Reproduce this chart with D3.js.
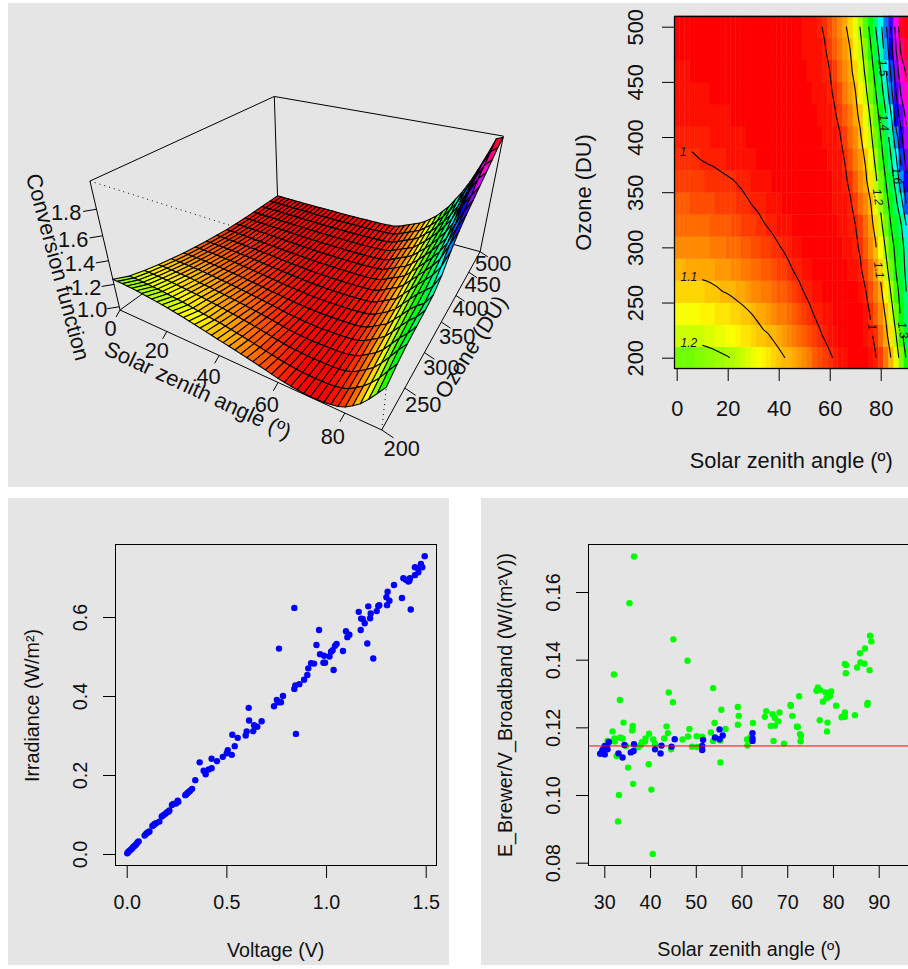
<!DOCTYPE html>
<html>
<head>
<meta charset="utf-8">
<script src="https://cdn.jsdelivr.net/npm/d3@7"></script>
<style>
body { margin: 0; background: #fff; }
text { font-family: "Liberation Sans", Arial, sans-serif; fill: #111; }
</style>
</head>
<body>
<svg id="chart"></svg>
<script>
// solar zenith angle and ozone grid of the conversion function
const sza = [0,2,4,6,8,10,12,14,16,18,20,22,24,26,28,30,32,34,36,38,40,42,44,46,48,50,52,54,56,58,60,62,64,66,68,70,72,74,76,78,80,82,84,86,88,90];
const ozone = [200,220,240,260,280,300,320,340,360,380,400,420,440,460,480,500];

// one row per ozone value, one column per sza
const conversion = [
[1.245,1.243,1.241,1.238,1.235,1.231,1.226,1.221,1.215,1.209,1.203,1.196,1.188,1.180,1.171,1.162,1.152,1.142,1.132,1.122,1.112,1.102,1.093,1.083,1.073,1.063,1.052,1.041,1.029,1.017,1.005,.996,.988,.982,.977,.975,.976,.979,.987,.998,1.020,1.058,1.100,1.162,1.232,1.305],
[1.185,1.184,1.183,1.181,1.179,1.176,1.173,1.169,1.164,1.159,1.154,1.148,1.141,1.134,1.127,1.120,1.113,1.106,1.102,1.093,1.084,1.075,1.066,1.056,1.046,1.036,1.025,1.015,1.005,.996,.989,.983,.978,.975,.974,.974,.976,.981,.992,1.010,1.045,1.083,1.134,1.197,1.275,1.350],
[1.150,1.149,1.148,1.147,1.145,1.143,1.140,1.137,1.133,1.129,1.125,1.120,1.115,1.110,1.104,1.098,1.091,1.084,1.076,1.069,1.061,1.053,1.044,1.036,1.027,1.017,1.007,.998,.991,.986,.981,.978,.975,.974,.974,.975,.978,.987,1.003,1.032,1.068,1.108,1.168,1.238,1.315,1.380],
[1.120,1.120,1.119,1.118,1.116,1.114,1.112,1.109,1.105,1.100,1.097,1.093,1.088,1.083,1.078,1.072,1.066,1.060,1.053,1.046,1.039,1.032,1.024,1.016,1.007,.999,.992,.986,.981,.978,.975,.974,.974,.975,.976,.979,.985,.997,1.022,1.056,1.089,1.138,1.204,1.273,1.330,1.400],
[1.093,1.093,1.092,1.091,1.090,1.088,1.086,1.083,1.080,1.077,1.073,1.069,1.065,1.060,1.055,1.049,1.044,1.038,1.032,1.026,1.019,1.012,1.005,.998,.992,.987,.982,.978,.976,.974,.974,.975,.976,.978,.981,.986,.995,1.016,1.045,1.078,1.115,1.176,1.239,1.303,1.350,1.420],
[1.070,1.070,1.069,1.068,1.067,1.065,1.063,1.061,1.058,1.055,1.051,1.047,1.043,1.039,1.034,1.029,1.024,1.018,1.013,1.007,1.002,.997,.992,.987,.983,.979,.977,.975,.974,.974,.975,.976,.978,.981,.985,.992,1.005,1.033,1.065,1.093,1.150,1.208,1.270,1.320,1.358,1.440],
[1.050,1.050,1.049,1.048,1.047,1.045,1.043,1.041,1.038,1.035,1.032,1.028,1.024,1.020,1.016,1.012,1.007,1.002,.998,.994,.990,.986,.983,.980,.977,.975,.974,.974,.975,.976,.977,.979,.982,.986,.992,.999,1.020,1.049,1.080,1.120,1.182,1.241,1.300,1.348,1.395,1.500],
[1.033,1.033,1.032,1.031,1.030,1.028,1.026,1.024,1.021,1.019,1.016,1.013,1.010,1.006,1.002,.998,.995,.991,.988,.985,.982,.979,.977,.975,.974,.974,.974,.975,.976,.977,.979,.981,.984,.988,.995,1.015,1.042,1.071,1.097,1.155,1.213,1.271,1.327,1.383,1.463,1.600],
[1.018,1.018,1.017,1.016,1.015,1.013,1.011,1.009,1.007,1.005,1.003,1.001,.998,.995,.992,.990,.987,.984,.982,.980,.978,.976,.975,.974,.974,.974,.975,.976,.977,.978,.980,.983,.987,.993,1.009,1.036,1.063,1.088,1.130,1.186,1.243,1.300,1.359,1.430,1.555,1.675],
[1.005,1.005,1.004,1.003,1.001,.999,.997,.996,.994,.992,.990,.988,.986,.984,.982,.981,.979,.978,.977,.975,.974,.974,.974,.974,.974,.975,.976,.977,.978,.980,.982,.985,.990,1.002,1.028,1.053,1.078,1.105,1.160,1.214,1.272,1.330,1.394,1.485,1.620,1.730],
[.996,.996,.995,.994,.993,.992,.991,.990,.988,.987,.985,.984,.982,.981,.980,.978,.977,.976,.975,.974,.974,.974,.974,.974,.975,.976,.977,.978,.980,.982,.985,.989,.997,1.021,1.045,1.070,1.093,1.135,1.185,1.240,1.297,1.362,1.430,1.560,1.680,1.775],
[.990,.990,.989,.988,.987,.986,.985,.984,.983,.982,.981,.980,.979,.978,.977,.976,.975,.975,.974,.974,.974,.974,.975,.975,.976,.977,.978,.980,.982,.985,.989,.996,1.012,1.037,1.061,1.085,1.113,1.160,1.208,1.265,1.328,1.396,1.490,1.655,1.735,1.820],
[.985,.985,.984,.983,.983,.982,.981,.980,.979,.979,.978,.977,.976,.976,.975,.975,.974,.974,.974,.974,.974,.975,.975,.976,.977,.978,.980,.982,.984,.988,.993,1.007,1.030,1.052,1.075,1.097,1.140,1.185,1.238,1.295,1.365,1.440,1.565,1.700,1.810,1.865],
[.982,.982,.981,.980,.980,.979,.978,.978,.977,.976,.976,.975,.975,.975,.974,.974,.974,.974,.974,.974,.975,.975,.976,.977,.978,.980,.981,.984,.987,.991,1.000,1.021,1.043,1.066,1.088,1.118,1.165,1.209,1.263,1.327,1.400,1.490,1.610,1.750,1.860,1.910],
[.979,.979,.978,.978,.977,.977,.976,.976,.975,.975,.975,.974,.974,.974,.974,.974,.974,.974,.975,.975,.975,.976,.977,.978,.979,.981,.983,.986,.990,.996,1.014,1.035,1.057,1.079,1.100,1.141,1.182,1.231,1.291,1.360,1.440,1.550,1.660,1.800,1.915,1.955],
[.977,.977,.976,.976,.975,.975,.975,.974,.974,.974,.974,.974,.974,.974,.974,.974,.974,.975,.975,.975,.976,.977,.978,.979,.980,.982,.985,.988,.993,1.007,1.028,1.050,1.071,1.092,1.122,1.161,1.203,1.260,1.320,1.400,1.480,1.580,1.700,1.830,1.970,1.990]
];

const contourLevels = [1,1.1,1.2,1.3,1.4,1.5,1.6,1.7,1.8,1.9];
const labelLevels = [1,1.1,1.2,1,1.1,1.2,1.3,1.4,1.5,1.6];
const labelSza = [2.5,4.8,4.8,76.6,79.3,78.9,88.7,81.3,80.9,86.4];
const labelOzone = [386.5,273,213,228,279.5,345.7,225,413,462.6,365];
const labelAngles = [0,0,0,82,82,82,82,84,84,84];

const szaTicks = [0,20,40,60,80];
const ozoneTicks = [200,250,300,350,400,450,500];
const zTicks = [1.0,1.2,1.4,1.6,1.8];

// voltage against irradiance
const voltage = [.003,.008,.013,.020,.027,.033,.040,.047,.054,.060,.090,.097,.102,.109,.114,.129,.134,.140,.147,.164,.176,.184,.192,.201,.209,.214,.227,.234,.247,.256,.259,.294,.298,.304,.311,.318,.328,.344,.366,.386,.396,.411,.426,.426,.453,.482,.502,.507,.527,.542,.530,.557,.597,.602,.614,.612,.635,.639,.655,.677,.739,.753,.761,.774,.784,.764,.841,.846,.866,.849,.890,.906,.911,.925,.940,.841,.952,.965,.970,.990,.987,.995,1.017,1.025,1.033,1.045,1.053,1.038,1.085,1.100,1.107,1.117,1.174,1.164,1.176,1.184,1.194,1.207,1.212,1.221,1.224,1.237,1.254,1.262,1.267,1.306,1.303,1.309,1.318,1.341,1.381,1.388,1.401,1.413,1.418,1.421,1.425,1.446,1.446,1.463,1.472,1.476,1.483,1.495];
const irradiance = [.002,.005,.008,.011,.014,.018,.021,.024,.029,.032,.047,.051,.053,.056,.057,.071,.073,.076,.078,.082,.095,.098,.101,.105,.107,.110,.124,.127,.128,.135,.132,.149,.151,.154,.157,.160,.165,.187,.232,.211,.202,.214,.217,.241,.235,.246,.255,.263,.251,.273,.302,.294,.300,.310,.338,.370,.311,.326,.322,.336,.374,.390,.384,.384,.400,.520,.418,.427,.430,.304,.441,.453,.470,.483,.482,.623,.529,.567,.506,.502,.484,.484,.500,.512,.516,.527,.532,.466,.514,.564,.549,.555,.567,.613,.596,.595,.584,.533,.627,.597,.609,.495,.615,.628,.630,.630,.650,.664,.641,.681,.648,.698,.694,.690,.692,.698,.619,.726,.706,.713,.726,.734,.726,.754];

// ratio against sza, two series
const greenSza = [36.5,35.5,45.1,48.2,32.1,53.8,44.1,33.4,45.0,59.2,55.6,59.4,34.2,36.2,36.1,31.8,43.6,43.9,48.6,54.1,56.5,53.3,39.8,39.0,33.4,34.0,30.7,32.2,32.3,38.2,38.9,40.7,43.1,47.1,48.3,50.2,51.4,53.8,55.4,38.0,34.7,37.4,41.1,44.6,49.2,50.3,61.2,61.3,62.5,59.2,61.9,65.1,65.4,66.8,67.3,68.3,68.0,67.3,66.4,70.7,70.8,71.1,72.1,72.3,72.8,73.0,72.9,67.0,69.3,72.6,76.4,76.7,77.2,78.4,79.6,79.3,78.6,77.8,80.7,77.1,78.8,78.7,81.9,82.6,82.6,82.0,84.8,87.6,87.5,82.6,82.9,82.8,85.3,86.0,86.9,88.0,85.9,87.0,88.1,88.4,32.7,35.2,39.7,55.4,36.3,40.3,33.2,33.0,40.6];
const greenRatio = [.1705,.1567,.1460,.1397,.1356,.1316,.1303,.1281,.1274,.1260,.1252,.1234,.1214,.1204,.1191,.1188,.1203,.1183,.1195,.1213,.1195,.1185,.1181,.1167,.1170,.1167,.1160,.1167,.1158,.1156,.1158,.1164,.1167,.1164,.1173,.1174,.1172,.1160,.1161,.1148,.1145,.1141,.1151,.1135,.1143,.1142,.1164,.1146,.1213,.1208,.1170,.1231,.1248,.1239,.1228,.1244,.1218,.1205,.1204,.1266,.1263,.1234,.1202,.1202,.1180,.1175,.1159,.1160,.1152,.1292,.1308,.1318,.1310,.1303,.1306,.1292,.1286,.1276,.1264,.1221,.1214,.1188,.1230,.1244,.1231,.1231,.1236,.1272,.1267,.1387,.1384,.1360,.1377,.1392,.1388,.1369,.1419,.1433,.1471,.1454,.1115,.1081,.1091,.1096,.1033,.1016,.1000,.0922,.0826];
const blueSza = [31.0,30.1,29.1,29.6,30.1,30.7,34.4,36.5,33.1,34.0,35.8,36.4,41.1,42.3,42.5,44.7,45.4,51.6,51.4,51.4,54.2,55.2,55.2,55.9,62.4,62.4,62.4,30.0,29.4,30.6];
const blueRatio = [.1157,.1145,.1122,.1133,.1120,.1135,.1148,.1150,.1123,.1111,.1126,.1130,.1135,.1123,.1146,.1143,.1165,.1163,.1145,.1133,.1170,.1165,.1194,.1176,.1183,.1167,.1160,.1138,.1125,.1143];
const meanRatio = .1145;

const topFont = 21.8;
const bottomFont = 19.7;

const svg = d3.select('#chart').attr('width', 908).attr('height', 969);

// grey figure regions
[[8, 3, 900, 484], [8, 498, 441, 467], [481, 498, 427, 467]].forEach(function (p) {
    svg.append('rect').attr('x', p[0]).attr('y', p[1]).attr('width', p[2]).attr('height', p[3]).attr('fill', '#e5e5e5');
});

// rainbow(100): hue goes in steps, not continuously
const colorOf = d3.scaleQuantize().domain([.97, 1.995]).range(d3.range(100).map(function (i) { return i * 3.6; }));
function rainbow(v) {
    return d3.hsl(colorOf(v), 1, .5).toString();
}

drawPersp();
drawImage();
drawVoltage();
drawRatio();

function drawPersp() {
    const g = svg.append('g');
    const uOf = d3.scaleLinear().domain([0, 90]).range([0, 1]);
    const vOf = d3.scaleLinear().domain([200, 500]).range([0, 1]);
    const wOf = d3.scaleLinear().domain([.97, 2.0]).range([0, 1]);

    // view transform fitted on the box corners
    function view(u, v, w) {
        const h = 1 - .2371 * u + .407 * v - .1384 * w;
        return [(120 + 171.2 * u + 270.5 * v - 42.5 * w) / h,
                (310 + 18 * u - 33.6 * v - 154 * w) / h,
                h];
    }
    function edge(a, b, dash) {
        const p = view(a[0], a[1], a[2]), q = view(b[0], b[1], b[2]);
        g.append('line')
            .attr('x1', p[0]).attr('y1', p[1]).attr('x2', q[0]).attr('y2', q[1])
            .attr('stroke', '#000').attr('stroke-width', 1)
            .attr('stroke-dasharray', dash ? '1 4' : null);
    }

    // hidden box edges
    edge([0,0,1], [1,0,1], true);
    edge([1,0,1], [1,1,1], true);
    edge([1,0,0], [1,0,1], true);
    edge([0,1,1], [0,0,1]);
    edge([0,1,1], [1,1,1]);
    edge([0,1,1], [0,1,0]);
    edge([0,1,0], [0,0,0]);
    edge([0,1,0], [1,1,0]);
    edge([1,1,0], [1,1,1]);

    // facets from back to front
    const line = d3.line();
    for (let j = ozone.length - 2; j >= 0; j--) {
        for (let i = 0; i < sza.length - 1; i++) {
            const cell = [[i, j], [i + 1, j], [i + 1, j + 1], [i, j + 1]];
            const pts = cell.map(function (c) {
                return view(uOf(sza[c[0]]), vOf(ozone[c[1]]), wOf(conversion[c[1]][c[0]])).slice(0, 2);
            });
            g.append('path')
                .attr('d', line(pts) + 'Z')
                .attr('fill', rainbow(d3.mean(cell, function (c) { return conversion[c[1]][c[0]]; })))
                .attr('stroke', '#000')
                .attr('stroke-width', 1.1)
                .attr('stroke-linejoin', 'round');
        }
    }

    edge([0,0,0], [1,0,0]);
    edge([1,0,0], [1,1,0]);
    edge([0,0,0], [0,0,1]);

    function tick(base, dx, dy, lx, ly, label) {
        const s = 1 / base[2];
        g.append('line').attr('x1', base[0]).attr('y1', base[1])
            .attr('x2', base[0] + dx * s).attr('y2', base[1] + dy * s)
            .attr('stroke', '#000').attr('stroke-width', 1);
        g.append('text').attr('x', base[0] + lx * s).attr('y', base[1] + ly * s)
            .attr('text-anchor', 'middle').attr('dominant-baseline', 'central')
            .attr('font-size', topFont).text(label);
    }
    szaTicks.forEach(function (d) { tick(view(uOf(d), 0, 0), -4, 7, -9.5, 18.5, d); });
    ozoneTicks.forEach(function (d) { tick(view(1, vOf(d), 0), 9, 6, 15.3, 13.8, d); });
    zTicks.forEach(function (d) { tick(view(0, 0, wOf(d)), -12, 2, -27, 3, d.toFixed(1)); });

    function title(x, y, angle, label) {
        g.append('text').attr('transform', 'translate(' + x + ',' + y + ') rotate(' + angle + ')')
            .attr('text-anchor', 'middle').attr('dominant-baseline', 'central')
            .attr('font-size', topFont).text(label);
    }
    title(198, 390, 25, 'Solar zenith angle (\u00ba)');
    title(471, 347, -58, 'Ozone (DU)');
    title(58, 267, 75, 'Conversion function');
}

// R style axes: ticks out, no domain line, rotated y labels
function bottomAxis(scale, ticks, y, baseline, size, format) {
    const a = svg.append('g').attr('transform', 'translate(0,' + y + ')')
        .call(d3.axisBottom(scale).tickValues(ticks).tickSize(12).tickFormat(format));
    a.select('.domain').remove();
    a.attr('font-family', null);
    a.selectAll('line').attr('stroke', '#000');
    a.selectAll('text')
        .attr('font-size', size)
        .attr('y', baseline - y)
        .attr('dy', 0);
}
function leftAxis(scale, ticks, x, baseline, size, format) {
    const a = svg.append('g').attr('transform', 'translate(' + x + ',0)')
        .call(d3.axisLeft(scale).tickValues(ticks).tickSize(12).tickFormat(format));
    a.select('.domain').remove();
    a.attr('font-family', null);
    a.selectAll('line').attr('stroke', '#000');
    a.selectAll('text')
        .attr('font-size', size)
        .attr('transform', 'rotate(-90)')
        .attr('x', 0)
        .attr('y', baseline - x)
        .attr('dy', 0)
        .attr('text-anchor', 'middle');
}
function axisTitle(x, y, rotate, size, label) {
    svg.append('text')
        .attr('transform', 'translate(' + x + ',' + y + ')' + (rotate ? ' rotate(-90)' : ''))
        .attr('text-anchor', 'middle')
        .attr('font-size', size)
        .text(label);
}

function drawImage() {
    const x = d3.scaleLinear().domain([0, 80]).range([676.7, 880.7]);
    const y = d3.scaleLinear().domain([200, 500]).range([357.7, 26.7]);
    const g = svg.append('g');
    const halfX = (x(sza[1]) - x(sza[0])) / 2;
    const halfY = (y(ozone[0]) - y(ozone[1])) / 2;

    ozone.forEach(function (oz, j) {
        sza.forEach(function (s, i) {
            g.append('rect')
                .attr('x', x(s) - halfX)
                .attr('y', y(oz) - halfY)
                .attr('width', halfX * 2 + .4)
                .attr('height', halfY * 2 + .4)
                .attr('fill', rainbow(conversion[j][i]));
        });
    });

    // contour lines, cut open on the grid border and around their labels
    const cols = sza.length, rows = ozone.length;
    const colToX = d3.scaleLinear().domain([.5, cols - .5]).range([x(sza[0]), x(sza[cols - 1])]);
    const rowToY = d3.scaleLinear().domain([.5, rows - .5]).range([y(ozone[0]), y(ozone[rows - 1])]);
    const flat = d3.merge(conversion);
    const labels = labelLevels.map(function (l, k) {
        return { level: l, x: x(labelSza[k]), y: y(labelOzone[k]), angle: labelAngles[k], r: l === 1 ? 8 : 13 };
    });
    const contours = d3.contours().size([cols, rows]).thresholds(contourLevels)(flat);
    contours.forEach(function (c) {
        let d = '';
        const gaps = labels.filter(function (l) { return l.level === c.value; });
        c.coordinates.forEach(function (poly) {
            poly.forEach(function (ring) {
                for (let k = 1; k < ring.length; k++) {
                    const a = ring[k - 1], b = ring[k];
                    if (Math.min(a[0], b[0]) < .5 || Math.max(a[0], b[0]) > cols - .5) continue;
                    if (Math.min(a[1], b[1]) < .5 || Math.max(a[1], b[1]) > rows - .5) continue;
                    const x0 = colToX(a[0]), y0 = rowToY(a[1]), x1 = colToX(b[0]), y1 = rowToY(b[1]);
                    const hit = gaps.some(function (l) {
                        return Math.hypot((x0 + x1) / 2 - l.x, (y0 + y1) / 2 - l.y) < l.r;
                    });
                    if (!hit) d += 'M' + x0 + ',' + y0 + 'L' + x1 + ',' + y1;
                }
            });
        });
        g.append('path').attr('d', d).attr('fill', 'none').attr('stroke', '#000').attr('stroke-width', 1.1);
    });

    labels.forEach(function (l) {
        g.append('text')
            .attr('transform', 'translate(' + l.x + ',' + l.y + ') rotate(' + l.angle + ')')
            .attr('text-anchor', 'middle').attr('dominant-baseline', 'central')
            .attr('font-size', 12).attr('font-style', 'italic')
            .text(l.level);
    });

    svg.append('rect').attr('x', 674.5).attr('y', 16.5).attr('width', 236).attr('height', 352)
        .attr('fill', 'none').attr('stroke', '#000').attr('stroke-width', 1.3);
    bottomAxis(x, szaTicks, 369, 416, topFont, d3.format('d'));
    leftAxis(y, ozoneTicks, 674, 642.7, topFont, d3.format('d'));
    axisTitle(791.3, 467.7, false, topFont, 'Solar zenith angle (\u00ba)');
    axisTitle(590.7, 192.5, true, topFont, 'Ozone (DU)');
}

function dots(g, xs, ys, x, y, color) {
    g.selectAll(null).data(xs).enter().append('circle')
        .attr('cx', function (d) { return x(d); })
        .attr('cy', function (d, i) { return y(ys[i]); })
        .attr('r', 3.2)
        .attr('fill', color);
}

function drawVoltage() {
    const x = d3.scaleLinear().domain([0, 1.5]).range([126.7, 425.7]);
    const y = d3.scaleLinear().domain([0, .6]).range([854, 617]);
    const g = svg.append('g');
    dots(g, voltage, irradiance, x, y, '#0000ff');
    svg.append('rect').attr('x', 115.5).attr('y', 544.5).attr('width', 321).attr('height', 321)
        .attr('fill', 'none').attr('stroke', '#000');
    bottomAxis(x, [0, .5, 1, 1.5], 866, 909.3, bottomFont, d3.format('.1f'));
    leftAxis(y, [0, .2, .4, .6], 115, 87.3, bottomFont, d3.format('.1f'));
    axisTitle(275.7, 956.7, false, bottomFont, 'Voltage (V)');
    axisTitle(39.3, 705.5, true, bottomFont, 'Irradiance (W/m\u00b2)');
}

function drawRatio() {
    const x = d3.scaleLinear().domain([30, 90]).range([604.3, 878.7]);
    const y = d3.scaleLinear().domain([.08, .16]).range([862.7, 592]);
    const g = svg.append('g');
    dots(g, greenSza, greenRatio, x, y, '#00ff00');
    dots(g, blueSza, blueRatio, x, y, '#0000ff');
    g.append('line').attr('x1', 588).attr('x2', 908)
        .attr('y1', y(meanRatio)).attr('y2', y(meanRatio))
        .attr('stroke', '#ff0000').attr('stroke-width', 1);
    svg.append('rect').attr('x', 588.5).attr('y', 544.5).attr('width', 321).attr('height', 321)
        .attr('fill', 'none').attr('stroke', '#000');
    bottomAxis(x, [30, 40, 50, 60, 70, 80, 90], 866, 909.3, bottomFont, d3.format('d'));
    leftAxis(y, [.08, .10, .12, .14, .16], 588, 559.7, bottomFont, d3.format('.2f'));
    axisTitle(749, 955.5, false, bottomFont, 'Solar zenith angle (\u00ba)');
    axisTitle(512.3, 705, true, bottomFont, 'E_Brewer/V_Broadband (W/(m\u00b2V))');
}
</script>
</body>
</html>
